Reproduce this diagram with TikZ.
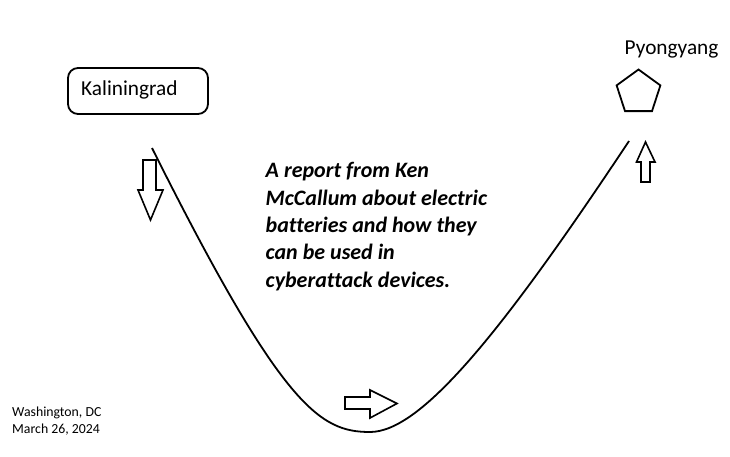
\documentclass[tikz,border=0pt]{standalone}
\usepackage{fontspec}
\setmainfont[Ligatures=NoCommon]{Carlito}
\usetikzlibrary{shapes.geometric}
\begin{document}
\begin{tikzpicture}[x=1pt,y=-1pt,
  ln/.style={line width=1.8pt,line join=miter},
  blockarrow/.style={line width=1.6pt,line join=miter,fill=white},
  lbl/.style={inner sep=0pt,anchor=base west},
]
\useasboundingbox[fill=white] (0,0) rectangle (730,457);
% Kaliningrad box
\draw[ln,rounded corners=10pt] (68,68) rectangle (208,114);
\node[lbl,font=\fontsize{21.3}{25}\selectfont] (kal) at (81,96) {Kaliningrad};
% Pyongyang
\node[lbl,font=\fontsize{21.3}{25}\selectfont] (pyo) at (624.5,55) {Pyongyang};
\node[draw,line width=1.8pt,regular polygon,regular polygon sides=5,minimum size=46pt,inner sep=0pt] (pent) at (638.5,92.5) {};
% curve
\coordinate (cs) at (152,148);
\coordinate (cb) at (370,432);
\coordinate (ce) at (629,141);
\draw[ln] (cs) .. controls (282,408) and (320,432) .. (cb)
               .. controls (420,432) and (499,337) .. (ce);
% arrows
\draw[blockarrow] (143,160) -- (156,160) -- (156,190) -- (163,190) -- (150.5,220) -- (138,190) -- (143,190) -- cycle;
\draw[blockarrow] (641,182) -- (650,182) -- (650,162) -- (655,162) -- (645.5,142) -- (636.5,162) -- (641,162) -- cycle;
\draw[blockarrow] (345,397) -- (370,397) -- (370,390) -- (397,403.5) -- (370,418) -- (370,409) -- (345,409) -- cycle;
% main text
\node[lbl,font=\fontsize{22}{27.3}\selectfont\bfseries\itshape,align=left,anchor=base west] (rep) at (265.5,287)
 {A report from Ken\\McCallum about electric\\batteries and how they\\can be used in\\cyberattack devices.};
% place/date
\node[lbl,font=\fontsize{13.8}{17}\selectfont,align=left,anchor=base west] (place) at (12,433)
 {Washington, DC\\March 26, 2024};
\end{tikzpicture}
\end{document}
